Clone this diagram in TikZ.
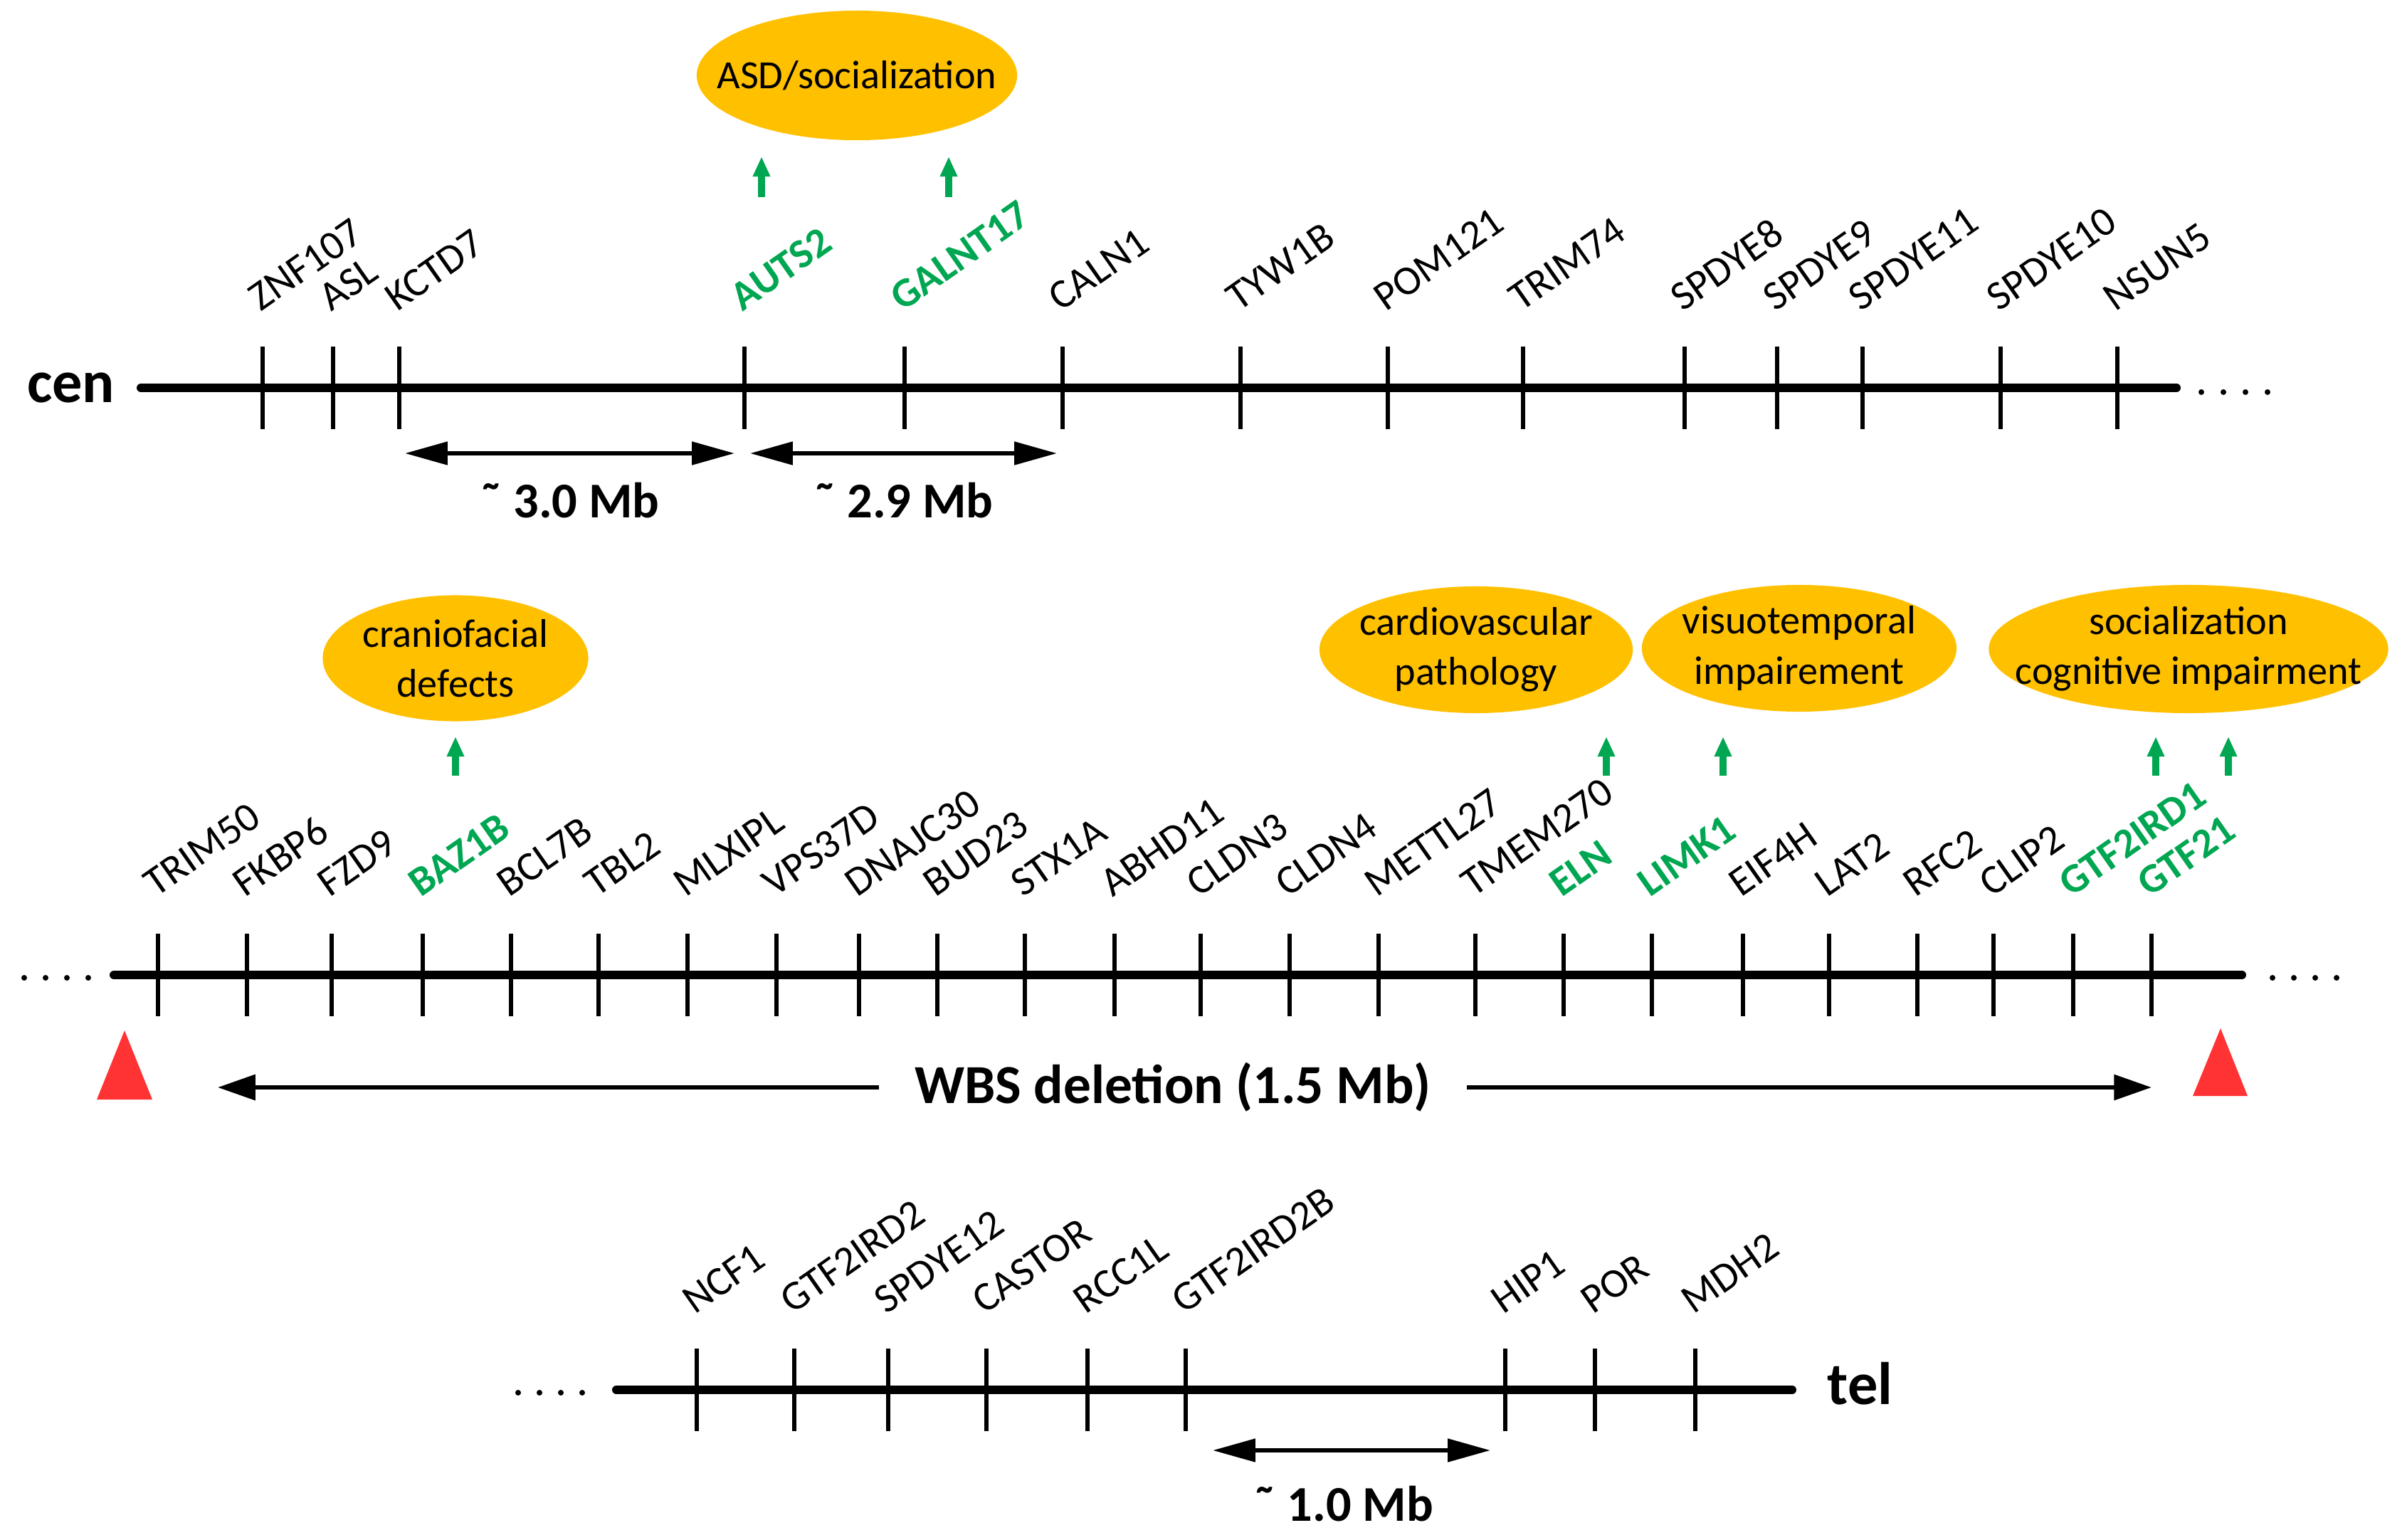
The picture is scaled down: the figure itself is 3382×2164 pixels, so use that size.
\documentclass[tikz,border=0pt]{standalone}
\usepackage{fontspec}
\setmainfont{Carlito}
\usetikzlibrary{arrows.meta,shapes.geometric,positioning}
\definecolor{traitgold}{RGB}{255,192,0}
\definecolor{wbsgreen}{RGB}{0,166,81}
\definecolor{breakred}{RGB}{255,51,51}
\newcommand{\genefont}{\fontsize{16.5}{20}\selectfont}
\newcommand{\traitfont}{\fontsize{16}{20}\selectfont}
\newcommand{\sizefont}{\fontsize{20}{24}\selectfont\bfseries}
\newcommand{\armfont}{\fontsize{24}{28}\selectfont\bfseries}

\begin{document}
\begin{tikzpicture}[
	x=0.01cm, y=-0.01cm,
	chrom/.style={line width=3.4pt, line cap=round},
	locus/.style={line width=1.8pt},
	gene/.style={
		rotate=35,
		anchor=base west,
		inner sep=0pt,
		font=\genefont
		},
	keygene/.style={
		gene,
		text=wbsgreen,
		font=\genefont\bfseries
		},
	trait/.style={
		ellipse,
		fill=traitgold,
		inner sep=0pt
		},
	traittext/.style={
		align=center,
		inner sep=0pt,
		font=\traitfont
		},
	span/.style={{Triangle[length=17pt,width=9pt]}-{Triangle[length=17pt,width=9pt]}, line width=1.7pt},
	oneway/.style={-{Triangle[length=15pt,width=10pt]}, line width=1.7pt},
	assoc/.style={-{Triangle[length=8pt,width=6.5pt]}, line width=3pt, wbsgreen},
	size/.style={font=\sizefont},
	arm/.style={font=\armfont, inner sep=0pt}
]
\useasboundingbox (0,0) rectangle (3382,2164);

% cen arm
\draw[chrom] (198,545) coordinate (cen start) -- (3058,545) coordinate (cen end);
\node[arm, anchor=base east] (cen) at ([xshift=-0.36cm, yshift=-0.2cm]cen start) {cen};
\foreach \x/\g/\s in {369/ZNF107/gene, 468/ASL/gene, 561/KCTD7/gene, 1046/AUTS2/keygene,
	1271/GALNT17/keygene, 1493/CALN1/gene, 1743/TYW1B/gene, 1950/POM121/gene,
	2140/TRIM74/gene, 2367/SPDYE8/gene, 2497/SPDYE9/gene, 2617/SPDYE11/gene,
	2811/SPDYE10/gene, 2975/NSUN5/gene}{
	\coordinate (\g) at (\x,545);
	\draw[locus] (\g) +(0,-58) -- +(0,58);
	\node[\s] (\g-label) at ([xshift=-0.03cm, yshift=1.06cm]\g) {\g};
}
\foreach \i in {0,...,3} {
	\fill (3093+31*\i,551) circle (0.04cm);
}
\draw[span] ([shift={(8,92)}]KCTD7) -- ([shift={(-14,92)}]AUTS2)
	node[size, midway, yshift=-0.66cm] (span30) {˜ 3.0 Mb};
\draw[span] ([shift={(8,92)}]AUTS2) -- ([shift={(-8,92)}]CALN1)
	node[size, midway, yshift=-0.66cm] (span29) {˜ 2.9 Mb};

% middle region (WBS)
\draw[chrom] (160,1370) -- (3150,1370);
\foreach \x/\g/\s in {222/TRIM50/gene, 347/FKBP6/gene, 466/FZD9/gene, 594/BAZ1B/keygene,
	718/BCL7B/gene, 841/TBL2/gene, 966/MLXIPL/gene, 1091/VPS37D/gene,
	1207/DNAJC30/gene, 1317/BUD23/gene, 1440/STX1A/gene, 1566/ABHD11/gene,
	1687/CLDN3/gene, 1812/CLDN4/gene, 1937/METTL27/gene, 2073/TMEM270/gene,
	2197/ELN/keygene, 2321/LIMK1/keygene, 2449/EIF4H/gene, 2570/LAT2/gene,
	2694/RFC2/gene, 2801/CLIP2/gene, 2913/GTF2IRD1/keygene, 3023/GTF21/keygene}{
	\coordinate (\g) at (\x,1370);
	\draw[locus] (\g) +(0,-58) -- +(0,58);
	\node[\s] (\g-label) at ([xshift=-0.03cm, yshift=1.08cm]\g) {\g};
}
\foreach \i in {0,...,3} {
	\fill (34+30*\i,1374) circle (0.04cm);
	\fill (3193+30*\i,1374) circle (0.04cm);
}
% breakpoints
\fill[breakred] (136,1545) -- (175,1448) -- (214,1545) -- cycle;
\fill[breakred] (3081,1540) -- (3120,1445) -- (3158,1540) -- cycle;
\node[font=\fontsize{22}{26}\selectfont\bfseries, inner xsep=0.5cm] (wbs) at (1648,1528) {WBS deletion (1.5 Mb)};
\coordinate (wbs left tip) at (306,1528);
\draw[oneway] (wbs.west) -- (wbs left tip);
\draw[oneway] (wbs.east) -- (wbs -| GTF21);

% tel arm
\draw[chrom] (866,1953) -- (2518,1953) coordinate (tel end);
\node[arm, anchor=base west] (tel) at ([xshift=0.49cm, yshift=-0.2cm]tel end) {tel};
\foreach \x/\g/\s in {979/NCF1/gene, 1116/GTF2IRD2/gene, 1248/SPDYE12/gene,
	1386/CASTOR/gene, 1528/RCC1L/gene, 1666/GTF2IRD2B/gene,
	2115/HIP1/gene, 2241/POR/gene, 2382/MDH2/gene}{
	\coordinate (\g) at (\x,1953);
	\draw[locus] (\g) +(0,-58) -- +(0,58);
	\node[\s] (\g-label) at ([xshift=-0.03cm, yshift=1.05cm]\g) {\g};
}
\foreach \i in {0,...,3} {
	\fill (728+30*\i,1957) circle (0.04cm);
}
\draw[span] ([shift={(38,85)}]GTF2IRD2B) -- ([shift={(-21,85)}]HIP1)
	node[size, midway, xshift=-0.11cm, yshift=-0.75cm] (span10) {˜ 1.0 Mb};

% phenotypes
\node[trait, minimum width=4.5cm, minimum height=1.82cm] (asd) at (1204,106) {};
\node[traittext] at (asd) {ASD/socialization};
\node[trait, minimum width=3.73cm, minimum height=1.77cm] (cranio) at (640,925) {};
\node[traittext] at (cranio) {craniofacial\\defects};
\node[trait, minimum width=4.4cm, minimum height=1.78cm] (cardio) at (2074,913) {};
\node[traittext] at (cardio) {cardiovascular\\pathology};
\node[trait, minimum width=4.42cm, minimum height=1.78cm] (visuo) at (2528,911) {};
\node[traittext] at (visuo) {visuotemporal\\impairement};
\node[trait, minimum width=5.61cm, minimum height=1.8cm] (social) at (3075,912) {};
\node[traittext] at (social) {socialization\\cognitive impairment};

% gene to phenotype arrows
\coordinate (top tips) at (0,220);
\coordinate (mid tips) at (0,1035);
\coordinate (AUTS2 up) at (1070,277);
\coordinate (GALNT17 up) at (1333,277);
\coordinate (BAZ1B up) at (640,1090);
\coordinate (ELN up) at (2257,1090);
\coordinate (LIMK1 up) at (2421,1090);
\coordinate (GTF2IRD1 up) at (3029,1090);
\coordinate (GTF21 up) at (3131,1090);
\draw[assoc] (AUTS2 up) -- (AUTS2 up |- top tips);
\draw[assoc] (GALNT17 up) -- (GALNT17 up |- top tips);
\foreach \g in {BAZ1B, ELN, LIMK1, GTF2IRD1, GTF21} {
	\draw[assoc] (\g\space up) -- (\g\space up |- mid tips);
}

\end{tikzpicture}
\end{document}
